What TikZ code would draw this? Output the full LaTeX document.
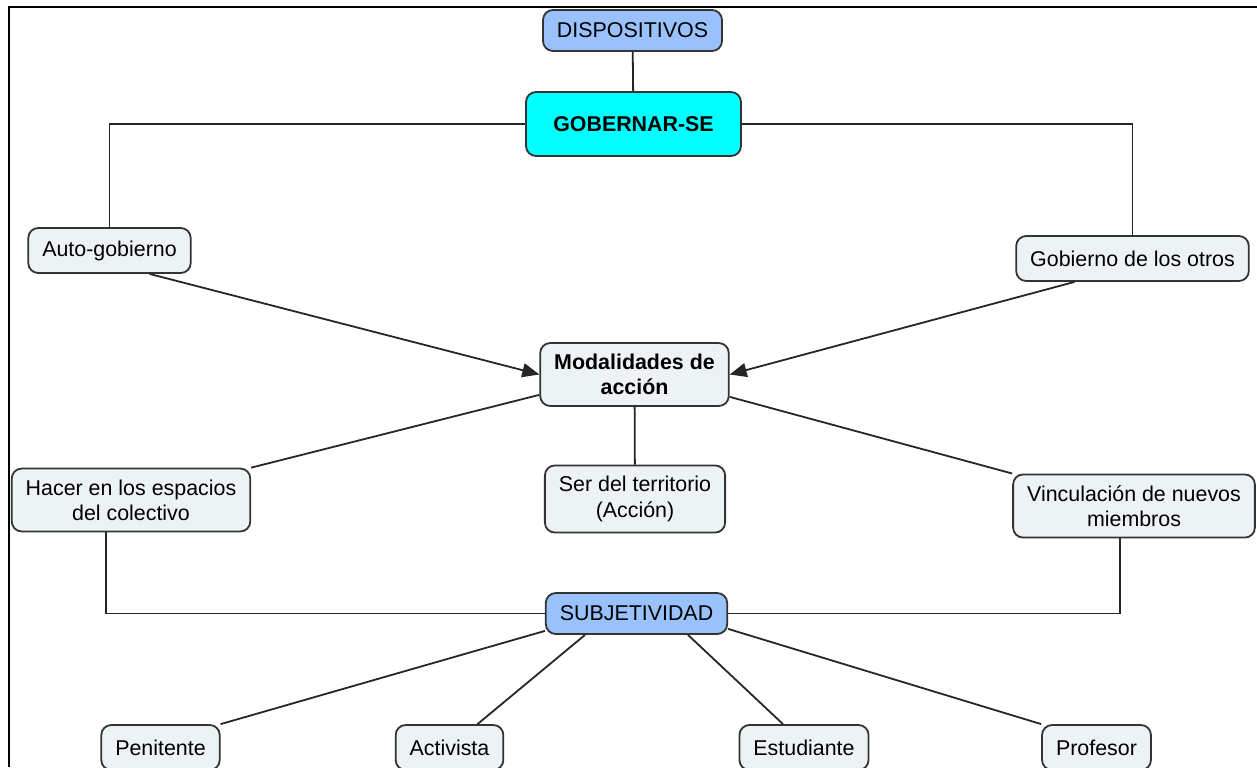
\documentclass[tikz,border=0pt]{standalone}
\usepackage{fontspec}
\setmainfont{Liberation Sans}
\usepackage{tikz}
\usetikzlibrary{positioning,arrows.meta,shapes}
\usepackage{xcolor}
\definecolor{boxfill}{HTML}{EDF3F5}
\definecolor{bluefill}{HTML}{99C2FC}
\definecolor{cyanfill}{HTML}{00FFFF}
\definecolor{edgegray}{HTML}{333333}
\newcommand\mapfont{\fontsize{10.7}{12.6}\selectfont}

\begin{document}
\begin{tikzpicture}[x=0.5pt, y=-0.5pt, every node/.style={font=\mapfont},
    concept/.style={draw=edgegray, line width=0.9pt, rounded corners=5pt, fill=boxfill,
        align=center, inner xsep=7pt, inner ysep=5.5pt, minimum height=22.5pt},
    key/.style={concept, fill=bluefill, minimum height=20.5pt},
    hub/.style={concept, font=\mapfont\bfseries},
    link/.style={draw=black!85, line width=0.9pt},
    arr/.style={link, -{Triangle[length=8.5pt,width=7pt]}}]
        \useasboundingbox (0,0) rectangle (1257,767);
        \clip (0,0) rectangle (1257,767);
        \draw[line width=1.4pt] (9,767) -- (9,7) -- (1257,7);

        % Top
        \node[key] (disp) at (632.5,30.5) {DISPOSITIVOS};
        \node[hub, fill=cyanfill, minimum width=107.5pt, minimum height=32pt] (gob) at (633.5,124) {GOBERNAR-SE};
        \node[concept] (auto) at (109.5,250.5) {Auto-gobierno};
        \node[concept] (otros) at (1132.5,258.5) {Gobierno de los otros};

        \draw[link] (disp) -- (gob);
        \draw[link] (gob.west) -| (auto.north);
        \draw[link] (gob.east) -| (otros.north);

        % Middle
        \node[hub] (modal) at (634.5,374.5) {Modalidades de\\acción};
        \node[concept] (hacer) at (131,500) {Hacer en los espacios\\del colectivo};
        \node[concept] (ser) at (635,499) {Ser del territorio\\(Acción)};
        \node[concept] (vinc) at (1134,506) {Vinculación de nuevos\\miembros};

        \draw[arr] ([xshift=20pt]auto.south) -- (modal.west);
        \draw[arr] ([xshift=-29pt]otros.south) -- (modal.east);
        \draw[link] ([yshift=6pt]modal.south west) -- (hacer.north east);
        \draw[link] (modal) -- (ser);
        \draw[link] ([yshift=5pt]modal.south east) -- (vinc.north west);

        % Bottom
        \node[key] (subj) at (636.5,613.5) {SUBJETIVIDAD};
        \node[concept] (pen) at (160.5,747.5) {Penitente};
        \node[concept] (act) at (449.5,747.5) {Activista};
        \node[concept] (est) at (804,747.5) {Estudiante};
        \node[concept] (prof) at (1096.5,747.5) {Profesor};

        \draw[link] ([xshift=-12.5pt]hacer.south) |- (subj.west);
        \draw[link] (subj.east) -| ([xshift=-7pt]vinc.south);
        \draw[link] ([yshift=2pt]subj.south west) -- (pen.north east);
        \draw[link] ([xshift=-25.75pt]subj.south) -- ([xshift=14pt]act.north);
        \draw[link] ([xshift=25.75pt]subj.south) -- ([xshift=-10.5pt]est.north);
        \draw[link] ([yshift=3pt]subj.south east) -- (prof.north west);
    \end{tikzpicture}
\end{document}
